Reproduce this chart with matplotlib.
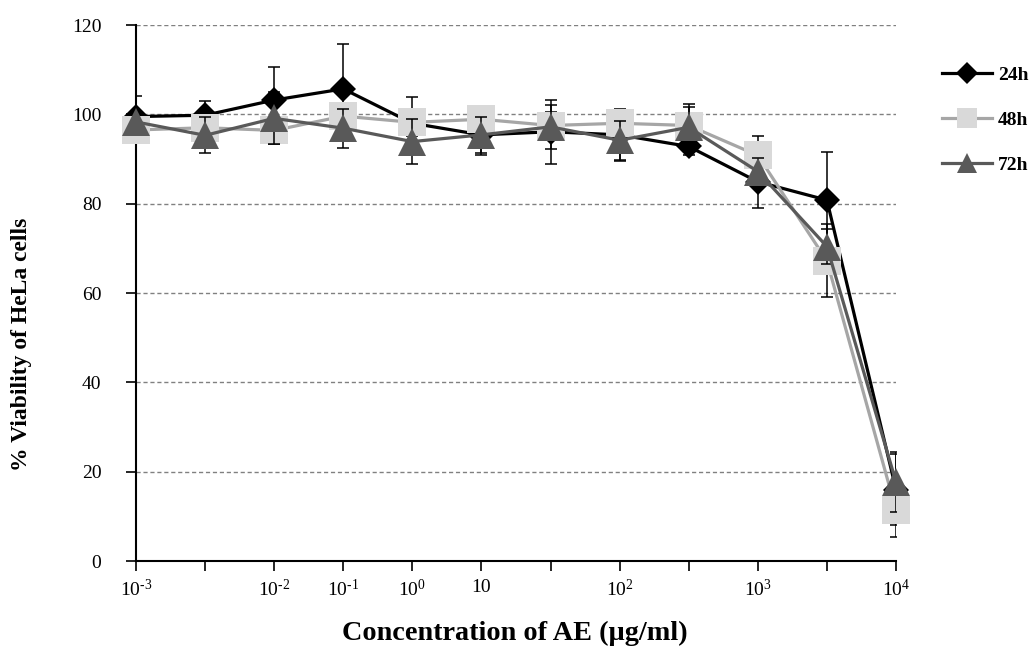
import matplotlib
matplotlib.use("Agg")
import matplotlib.pyplot as plt
import numpy as np

plt.rcParams['font.family'] = ['Liberation Serif', 'DejaVu Serif']
plt.rcParams['mathtext.fontset'] = 'custom'
plt.rcParams['mathtext.rm'] = 'Liberation Serif'
plt.rcParams['mathtext.it'] = 'Liberation Serif:italic'
plt.rcParams['mathtext.bf'] = 'Liberation Serif:bold'

tick_labels = ["10$^{\\text{-3}}$", "", "10$^{\\text{-2}}$", "10$^{\\text{-1}}$", "10$^{\\text{0}}$", "10", "",
               "10$^{\\text{2}}$", "", "10$^{\\text{3}}$", "", "10$^{\\text{4}}$"]
v24 = [99.5, 99.8, 103.2, 105.7, 98.0, 95.4, 96.1, 95.4, 92.8, 84.9, 80.8, 16.0]
e24 = [4.7, 3.2, 7.5, 10.0, 5.8, 4.5, 7.2, 5.8, 2.0, 5.8, 10.8, 8.0]
v48 = [96.5, 97.0, 96.4, 99.6, 98.2, 98.9, 97.5, 98.0, 97.5, 90.8, 67.2, 11.4]
e48 = [2.0, 2.0, 3.0, 2.0, 3.0, 2.0, 3.0, 3.0, 4.8, 4.3, 8.2, 6.0]
v72 = [98.3, 95.3, 99.1, 96.9, 93.9, 95.4, 97.2, 94.2, 97.1, 87.2, 70.4, 17.7]
e72 = [2.0, 4.0, 5.8, 4.4, 5.0, 4.0, 5.0, 4.4, 4.5, 3.0, 4.0, 6.8]

x = np.arange(len(tick_labels))

fig = plt.figure(figsize=(10.36, 6.62), dpi=100)
ax = fig.add_axes([136/1036, 1-561/662, (896-136)/1036, (561-25)/662])

series = [
    ("24h", v24, e24, 'black', 'black', 'D', 13.5),
    ("48h", v48, e48, '#A6A6A6', '#D9D9D9', 's', 20),
    ("72h", v72, e72, '#595959', '#595959', '^', 20),
]
for i, (lab, v, e, lc, mc, mk, ms) in enumerate(series):
    ax.errorbar(x, v, yerr=e, fmt='none', ecolor='black', elinewidth=1.1,
                capsize=4, capthick=1.1, zorder=2 + i*2)
    ax.plot(x, v, color=lc, lw=2.3, marker=mk, markersize=ms,
            markerfacecolor=mc, markeredgecolor=mc, markeredgewidth=0,
            zorder=3 + i*2, label=lab, clip_on=False)

ax.set_xlim(0, 11)
ax.set_ylim(0, 120)
ax.set_yticks(range(0, 121, 20))
ax.set_xticks(x)
ax.set_xticklabels(tick_labels)
ax.tick_params(axis='both', labelsize=14, direction='out', length=7, width=1.2,
               colors='black')
ax.tick_params(axis='x', pad=6)
ax.tick_params(axis='y', pad=18)
for s in ['top', 'right']:
    ax.spines[s].set_visible(False)
for s in ['left', 'bottom']:
    ax.spines[s].set_linewidth(1.5)
    ax.spines[s].set_color('black')
ax.yaxis.grid(True, linestyle=(0, (3, 2)), color='#808080', linewidth=1.0)
ax.set_axisbelow(True)

fig.text(22/1036, 1-344/662, "% Viability of HeLa cells", fontsize=17,
         fontweight='bold', rotation=90, ha='center', va='center')
fig.text(515/1036, 1-633/662, "Concentration of AE (µg/ml)", fontsize=20.3,
         fontweight='bold', ha='center', va='center')

# legend
leg_handles = []
for lab, v, e, lc, mc, mk, ms in series:
    hh, = ax.plot([], [], color=lc, lw=2.3, marker=mk,
                  markersize={'D': 11, 's': 14, '^': 14}[mk],
                  markerfacecolor=mc, markeredgecolor=mc, markeredgewidth=0, label=lab)
    leg_handles.append(hh)
fig.legend(handles=leg_handles, loc='upper left', bbox_to_anchor=(924/1036, 1-49/662),
           frameon=False, handlelength=2.6, labelspacing=1.4, handletextpad=0.3,
           prop={'family': 'Liberation Serif', 'weight': 'bold', 'size': 14})

fig.savefig("out.png", dpi=100)
